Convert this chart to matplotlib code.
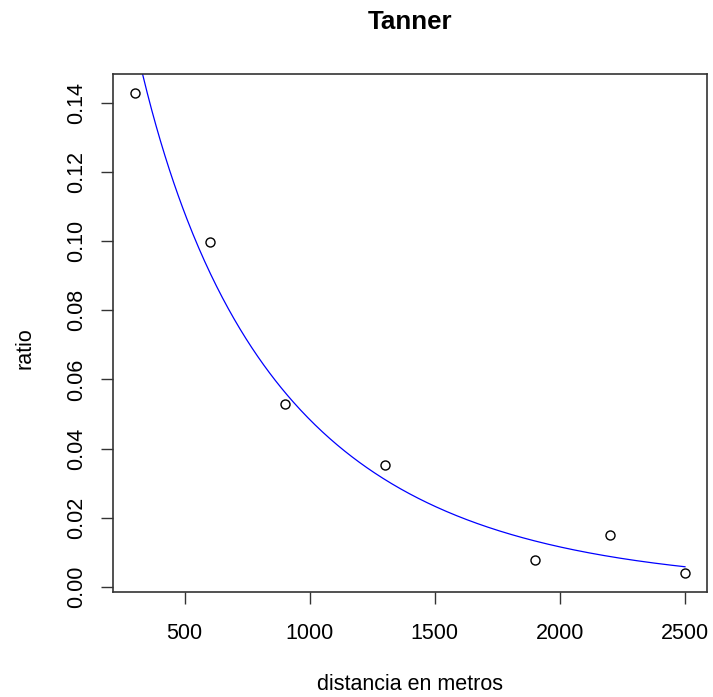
"""Tanner distance-decay plot: observed ratios vs distance with fitted curve."""

import numpy as np
import matplotlib
matplotlib.use("Agg")
import matplotlib.pyplot as plt
from matplotlib.ticker import FormatStrFormatter

plt.rcParams["font.family"] = ["Liberation Sans", "DejaVu Sans"]

# observed points
dist = [300, 600, 900, 1300, 1900, 2200, 2500]
ratio = [0.1427, 0.0996, 0.0529, 0.0352, 0.0077, 0.0150, 0.0041]

# Tanner function parameters (y = A * d^alpha * exp(-beta * d))
tanner_A = 1.0
tanner_alpha = -0.2575
tanner_beta = 0.00125

xticks = [500, 1000, 1500, 2000, 2500]
yticks = [0.00, 0.02, 0.04, 0.06, 0.08, 0.10, 0.12, 0.14]

fig = plt.figure(figsize=(7.13, 6.97), dpi=100)
ax = fig.add_axes([0.158, 0.1506, 0.8336, 0.7432])

ax.plot(dist, ratio, "o", mfc="none", mec="black", ms=6.5, mew=1.0, zorder=3)

xs = np.linspace(min(dist) * 0.5, max(dist), 400)
ax.plot(xs, tanner_A * xs ** tanner_alpha * np.exp(-tanner_beta * xs),
        color="#0000FF", lw=0.9, zorder=2)

# R-style 4% padding around the data range
xr = max(dist) - min(dist)
yr = max(ratio) - min(ratio)
ax.set_xlim(min(dist) - 0.04 * xr, max(dist) + 0.04 * xr)
ax.set_ylim(min(ratio) - 0.04 * yr, max(ratio) + 0.04 * yr)

ax.set_xticks(xticks)
ax.set_yticks(yticks)
ax.yaxis.set_major_formatter(FormatStrFormatter("%.2f"))
ax.tick_params(length=8.6, width=1.0, color="#333333", labelsize=15.5)
ax.tick_params(axis="x", pad=13.5)
ax.tick_params(axis="y", labelrotation=90, pad=9.5)
for lab in ax.get_yticklabels():
    lab.set_va("center")

for sp in ax.spines.values():
    sp.set_linewidth(1.2)
    sp.set_color("#333333")

fig.text(0.575, 1 - 22 / 697, "Tanner", ha="center", va="center",
         fontsize=18.7, fontweight="bold")
fig.text(0.575, 1 - 685 / 697, "distancia en metros", ha="center", va="center",
         fontsize=15.5)
fig.text(25 / 713, 0.5, "ratio", ha="center", va="center", rotation=90,
         fontsize=15.5)

fig.savefig("out.png", dpi=100)
plt.close(fig)
